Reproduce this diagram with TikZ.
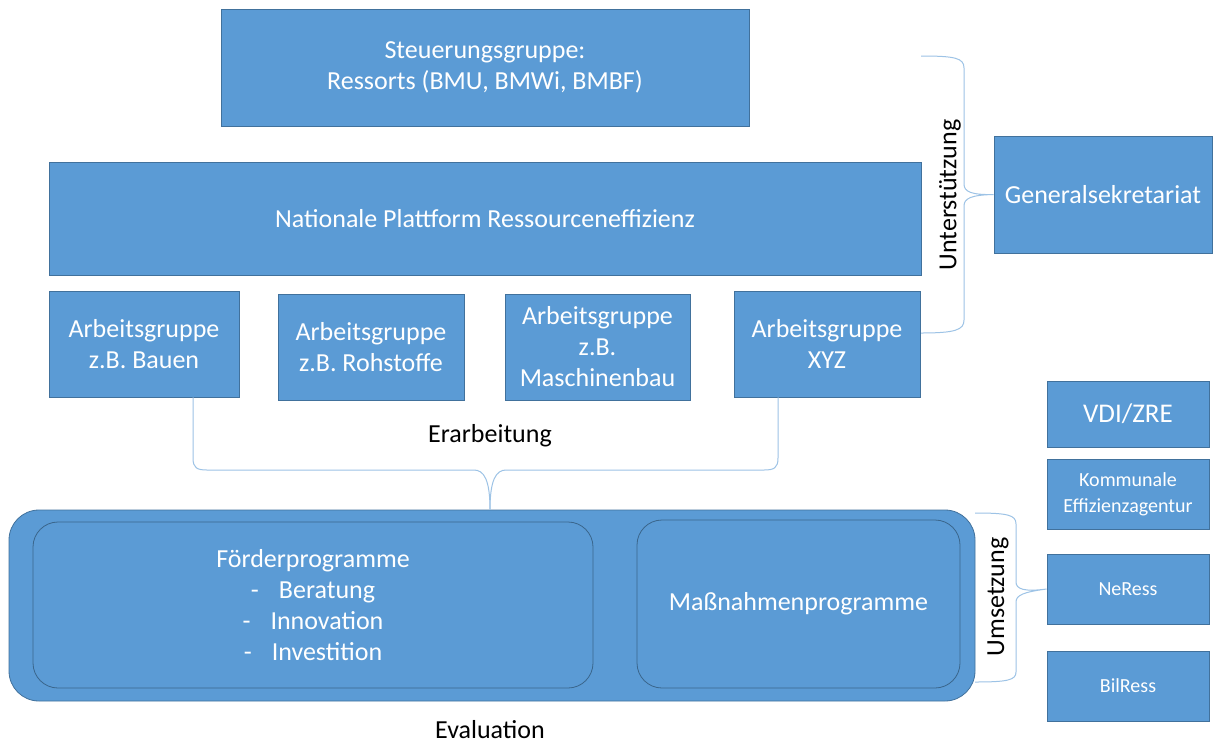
\documentclass[tikz,border=0pt]{standalone}
\usepackage{fontspec}
\setmainfont{Carlito}
\definecolor{boxblue}{HTML}{5B9BD5}
\definecolor{boxline}{HTML}{41719C}
\definecolor{bracecol}{HTML}{9DC3E6}
\begin{document}
\begin{tikzpicture}[x=1pt,y=-1pt,
  box/.style={fill=boxblue,draw=boxline,line width=0.8pt,text=white,align=center,inner sep=0pt,
    font=\fontsize{26}{31}\selectfont},
  smallbox/.style={box,font=\fontsize{20}{26}\selectfont},
  inner/.style={fill=boxblue,draw=boxline!90!black,line width=0.8pt,text=white,align=center,inner sep=0pt,
    rounded corners=25pt,font=\fontsize{26}{31}\selectfont},
  lbl/.style={text=black,inner sep=0pt,font=\fontsize{26}{31}\selectfont},
  brace/.style={draw=bracecol,line width=1pt}]
\useasboundingbox (0,0) rectangle (1216,745);
\fill[white] (0,0) rectangle (1216,745);

\node[box,minimum width=528,minimum height=117] (steer) at (485,67.5) {Steuerungsgruppe:\\Ressorts (BMU, BMWi, BMBF)};
\node[box,minimum width=872,minimum height=113] (npr) at (485,218.5) {Nationale Plattform Ressourceneffizienz};
\node[box,minimum width=190,minimum height=106] (ag1) at (144,344) {Arbeitsgruppe\\z.B. Bauen};
\node[box,minimum width=186,minimum height=106] (ag2) at (371,347) {Arbeitsgruppe\\z.B. Rohstoffe};
\node[box,minimum width=185,minimum height=106] (ag3) at (597.5,347) {Arbeitsgruppe\\z.B.\\Maschinenbau};
\node[box,minimum width=186,minimum height=106] (ag4) at (827,344) {Arbeitsgruppe\\XYZ};
\node[box,minimum width=218,minimum height=117] (gen) at (1103,194.5) {Generalsekretariat};
\node[box,minimum width=162,minimum height=66,font=\fontsize{27}{31}\selectfont] (vdi) at (1128,414) {VDI/ZRE};
\node[smallbox,minimum width=162,minimum height=70] (kom) at (1128,494) {Kommunale\\Effizienzagentur};
\node[smallbox,minimum width=162,minimum height=70] (neress) at (1128,589) {NeRess};
\node[smallbox,minimum width=162,minimum height=70] (bilress) at (1128,686) {BilRess};

\node[box,rounded corners=30pt,minimum width=966,minimum height=191] (outer) at (492,605.5) {};
\node[inner,minimum width=560,minimum height=166] (foerd) at (313,605) {F\"orderprogramme\\-\hspace{20pt}Beratung\\-\hspace{20pt}Innovation\\-\hspace{20pt}Investition};
\node[inner,minimum width=323,minimum height=168] (mass) at (798.5,604) {Ma\ss nahmenprogramme};

\node[lbl] (erarb) at (490,436) {Erarbeitung};
\node[lbl] (eval) at (490,730) {Evaluation};
\node[lbl,rotate=90] (unterst) at (950,195) {Unterst\"utzung};
\node[lbl,rotate=90] (umsetz) at (998,597) {Umsetzung};

% Unterstuetzung brace
\coordinate (ubtop) at (921,56);
\coordinate (ubbot) at (921,333);
\draw[brace] (ubtop) .. controls (955,56) and (964,58) .. (964,68) -- (964,184)
  .. controls (964,192) and (972,195) .. (gen.west)
  .. controls (972,195) and (964,198) .. (964,206) -- (964,320)
  .. controls (964,330) and (955,333) .. (ubbot);

% Erarbeitung brace
\draw[brace] (ag1.south -| 193,0) -- (193,458) .. controls (193,468) and (197,470) .. (207,470)
  -- (474,470) .. controls (484,470) and (490,480) .. (outer.north -| 490,0);
\draw[brace] (ag4.south -| 778,0) -- (778,458) .. controls (778,468) and (774,470) .. (764,470)
  -- (506,470) .. controls (496,470) and (490,480) .. (outer.north -| 490,0);

% Umsetzung brace
\coordinate (usbtop) at (975,513);
\coordinate (usbbot) at (975,682);
\draw[brace] (usbtop) .. controls (1008,513) and (1016,515) .. (1016,524) -- (1016,582)
  .. controls (1016,589) and (1024,592) .. (neress.west)
  .. controls (1024,592) and (1016,595) .. (1016,602) -- (1016,672)
  .. controls (1016,680) and (1008,682) .. (usbbot);
\end{tikzpicture}
\end{document}
